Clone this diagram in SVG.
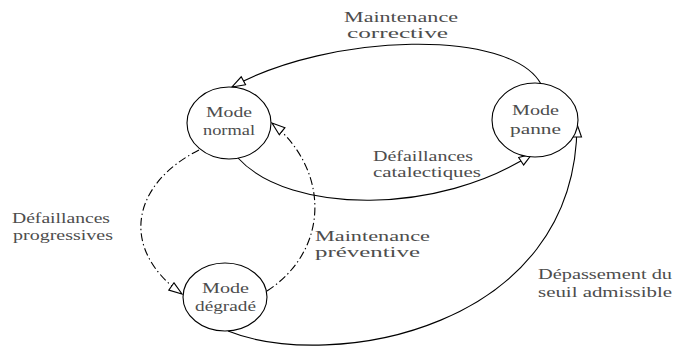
<svg xmlns="http://www.w3.org/2000/svg" width="673" height="347" viewBox="0 0 673 347">
  <style>
    .state { fill: #ffffff; stroke: #000000; stroke-width: 1.1; }
    .lbl { font-family: "Liberation Serif", "DejaVu Serif", serif; font-size: 15px; fill: #4d4d4d; }
    .edge { fill: none; stroke: #000000; stroke-width: 1.1; marker-end: url(#open-tri); }
    .dashdot { stroke-dasharray: 8 3 1.4 3; }
  </style>
  <defs>
    <marker id="open-tri" markerUnits="userSpaceOnUse" viewBox="0 0 15 11" markerWidth="15" markerHeight="11" refX="14" refY="5.5" orient="auto">
      <path d="M1,1 L14,5.5 L1,10 Z" fill="#ffffff" stroke="#000000" stroke-width="1.1" stroke-linejoin="miter"/>
    </marker>
  </defs>

  <!-- transitions -->
  <g id="connectors">
    <!-- panne -> normal -->
    <path class="edge" d="M541,84 C510,28 330,33 232,87"/>
    <!-- normal -> panne -->
    <path class="edge" d="M238,158 C290,215 440,215 532,154"/>
    <!-- normal -> degrade -->
    <path class="edge dashdot" d="M199,150 C130,185 120,250 182,294"/>
    <!-- degrade -> normal -->
    <path class="edge dashdot" d="M267,291 C330,250 330,170 272,123"/>
    <!-- degrade -> panne -->
    <path class="edge" d="M228,331 C330,372 577,330 577,124"/>
  </g>

  <!-- edge labels -->
  <g id="label-corrective">
    <text class="lbl" x="344" y="22" textLength="114" lengthAdjust="spacingAndGlyphs">Maintenance</text>
    <text class="lbl" x="347" y="38" textLength="101" lengthAdjust="spacingAndGlyphs">corrective</text>
  </g>
  <g id="label-catalectiques">
    <text class="lbl" x="373" y="161" textLength="100" lengthAdjust="spacingAndGlyphs">Défaillances</text>
    <text class="lbl" x="373" y="177" textLength="108" lengthAdjust="spacingAndGlyphs">catalectiques</text>
  </g>
  <g id="label-progressives">
    <text class="lbl" x="12" y="223" textLength="98" lengthAdjust="spacingAndGlyphs">Défaillances</text>
    <text class="lbl" x="13" y="240" textLength="100" lengthAdjust="spacingAndGlyphs">progressives</text>
  </g>
  <g id="label-preventive">
    <text class="lbl" x="315" y="241" textLength="115" lengthAdjust="spacingAndGlyphs">Maintenance</text>
    <text class="lbl" x="315" y="257" textLength="105" lengthAdjust="spacingAndGlyphs">préventive</text>
  </g>
  <g id="label-depassement">
    <text class="lbl" x="538" y="279" textLength="134" lengthAdjust="spacingAndGlyphs">Dépassement du</text>
    <text class="lbl" x="538" y="297" textLength="134" lengthAdjust="spacingAndGlyphs">seuil admissible</text>
  </g>

  <!-- states -->
  <g id="mode-normal">
    <ellipse class="state" cx="229" cy="123" rx="42" ry="36"/>
    <text class="lbl" x="206" y="117" textLength="46" lengthAdjust="spacingAndGlyphs">Mode</text>
    <text class="lbl" x="203" y="135" textLength="52" lengthAdjust="spacingAndGlyphs">normal</text>
  </g>
  <g id="mode-panne">
    <ellipse class="state" cx="535" cy="120" rx="43" ry="37"/>
    <text class="lbl" x="512" y="115" textLength="47" lengthAdjust="spacingAndGlyphs">Mode</text>
    <text class="lbl" x="510" y="134" textLength="51" lengthAdjust="spacingAndGlyphs">panne</text>
  </g>
  <g id="mode-degrade">
    <ellipse class="state" cx="225" cy="297" rx="42" ry="34"/>
    <text class="lbl" x="202" y="293" textLength="47" lengthAdjust="spacingAndGlyphs">Mode</text>
    <text class="lbl" x="195" y="311" textLength="61" lengthAdjust="spacingAndGlyphs">dégradé</text>
  </g>
</svg>
